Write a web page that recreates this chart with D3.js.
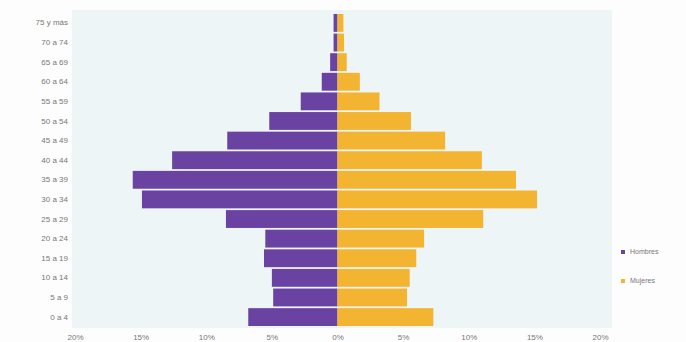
<!DOCTYPE html>
<html>
<head>
<meta charset="utf-8">
<script src="https://cdn.jsdelivr.net/npm/d3@7"></script>
<style>
  body { margin: 0; background: #fdfdfd; }
  text { font-family: "Liberation Sans", Arial, sans-serif; }
</style>
</head>
<body>
<div id="pyramid"></div>
<script>
// age groups, bottom to top
var ages = ["0 a 4", "5 a 9", "10 a 14", "15 a 19", "20 a 24", "25 a 29", "30 a 34", "35 a 39",
            "40 a 44", "45 a 49", "50 a 54", "55 a 59", "60 a 64", "65 a 69", "70 a 74", "75 y más"];
// % of total population
var hombres = [6.8, 4.9, 5.0, 5.6, 5.5, 8.5, 14.9, 15.6, 12.6, 8.4, 5.2, 2.8, 1.2, 0.56, 0.3, 0.3];
var mujeres = [7.3, 5.3, 5.5, 6.0, 6.6, 11.1, 15.2, 13.6, 11.0, 8.2, 5.6, 3.2, 1.7, 0.7, 0.5, 0.45];
var ticks = [-20, -15, -10, -5, 0, 5, 10, 15, 20];
var series = ["Hombres", "Mujeres"];
var colors = ["#6a43a2", "#f2b431"];

var width = 686, height = 342;

var svg = d3.select("#pyramid")
  .append("svg")
    .attr("width", width)
    .attr("height", height);

// plot background
svg.append("rect")
  .attr("x", 72).attr("y", 10)
  .attr("width", 540).attr("height", 318)
  .attr("fill", "#eef5f7");

var x = d3.scaleLinear()
  .domain([-20, 20])
  .range([75, 600]);

var y = d3.scaleBand()
  .domain(ages.slice().reverse())
  .range([14, 326])
  .paddingInner(0.09);

// men to the left
svg.append("g").selectAll("rect")
  .data(ages)
  .enter()
  .append("rect")
    .attr("x", function(d, i) { return x(-hombres[i]); })
    .attr("y", function(d) { return y(d); })
    .attr("width", function(d, i) { return x(0) - x(-hombres[i]); })
    .attr("height", y.bandwidth())
    .attr("fill", colors[0]);

// women to the right
svg.append("g").selectAll("rect")
  .data(ages)
  .enter()
  .append("rect")
    .attr("x", x(0))
    .attr("y", function(d) { return y(d); })
    .attr("width", function(d, i) { return x(mujeres[i]) - x(0); })
    .attr("height", y.bandwidth())
    .attr("fill", colors[1]);

// X axis
var xAxis = svg.append("g")
  .attr("transform", "translate(0,328)")
  .call(d3.axisBottom(x).tickValues(ticks).tickSize(0).tickPadding(6)
    .tickFormat(function(d) { return Math.abs(d) + "%"; }));
xAxis.select(".domain").remove();
xAxis.selectAll("text").attr("fill", "#777").style("font-size", "8px");

// Y axis
var yAxis = svg.append("g")
  .attr("transform", "translate(72,0)")
  .call(d3.axisLeft(y).tickSize(0).tickPadding(4));
yAxis.select(".domain").remove();
yAxis.selectAll("text").attr("fill", "#777").style("font-size", "8px");

// legend
var legend = svg.append("g").selectAll("g")
  .data(series)
  .enter()
  .append("g")
    .attr("transform", function(d, i) { return "translate(621," + (252 + i * 29) + ")"; });
legend.append("rect")
  .attr("x", 0).attr("y", -2)
  .attr("width", 4).attr("height", 4)
  .attr("fill", function(d, i) { return colors[i]; });
legend.append("text")
  .attr("x", 9).attr("dy", "0.32em")
  .attr("fill", "#777")
  .style("font-size", "7px")
  .text(function(d) { return d; });
</script>
</body>
</html>
